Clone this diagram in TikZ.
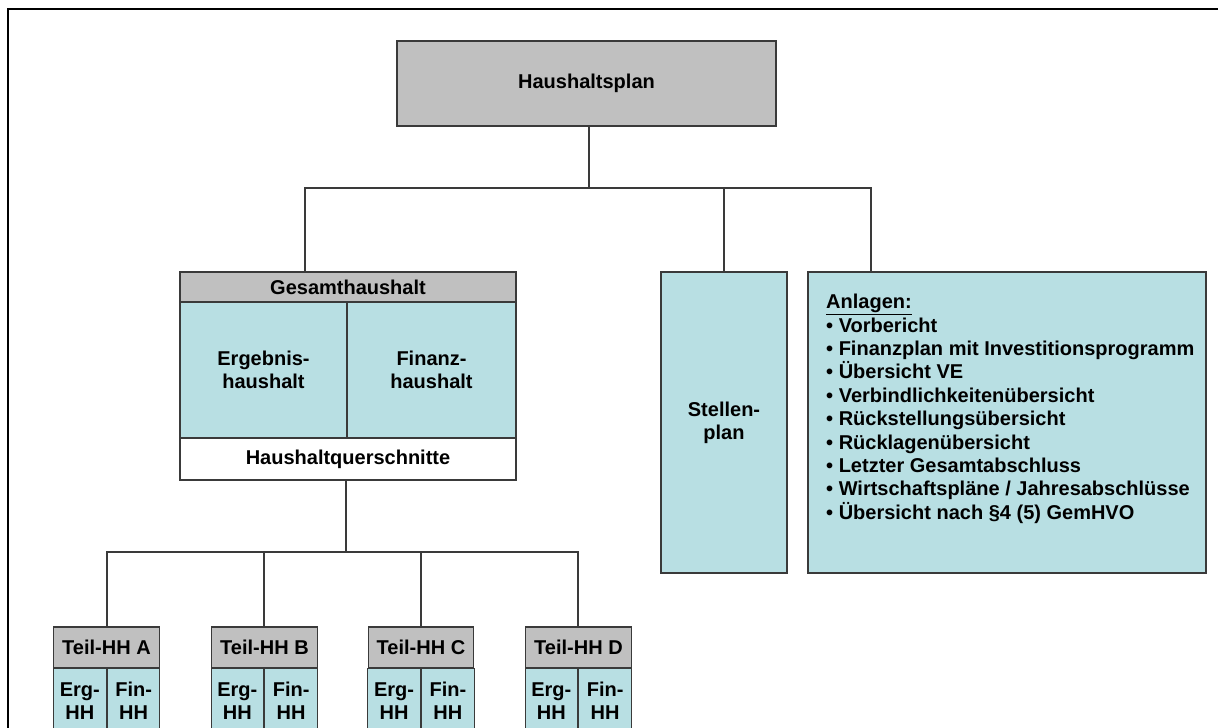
\documentclass[tikz,border=0pt]{standalone}
\usepackage{fontspec}
\setmainfont{Liberation Sans}
\definecolor{hdgray}{HTML}{C0C0C0}
\definecolor{lcyan}{HTML}{B8DFE3}
\definecolor{edge}{HTML}{3A3A3A}
\tikzset{
  box/.style={draw=edge, line width=1.1pt, inner sep=0pt, align=center,
    font=\fontsize{20}{23}\selectfont\bfseries},
  graybox/.style={box, fill=hdgray},
  cyanbox/.style={box, fill=lcyan},
  whitebox/.style={box, fill=white},
  wire/.style={draw=edge, line width=1.4pt},
}
\begin{document}
\begin{tikzpicture}[x=1pt,y=-1pt]
\useasboundingbox (0,0) rectangle (1218,728);
\clip (0,0) rectangle (1218,728);
% outer frame
\draw[line width=2.4pt, black] (8,740) -- (8,9) -- (1230,9);

% top box
\node[graybox, minimum width=379pt, minimum height=85pt] (hp) at (586.5,83.5) {Haushaltsplan};

% Gesamthaushalt block
\node[graybox, minimum width=336pt, minimum height=30pt] (gh) at (348,287) {Gesamthaushalt};
\node[cyanbox, minimum width=167pt, minimum height=136pt] (erg) at (263.5,370) {Ergebnis-\\haushalt};
\node[cyanbox, minimum width=169pt, minimum height=136pt] (fin) at (431.5,370) {Finanz-\\haushalt};
\node[whitebox, minimum width=336pt, minimum height=42pt] (quer) at (348,459) {Haushaltquerschnitte};

% Stellenplan
\node[cyanbox, minimum width=126pt, minimum height=301pt] (sp) at (724,422.5) {Stellen-\\plan};

% Anlagen
\node[cyanbox, minimum width=398pt, minimum height=301pt] (anl) at (1007,422.5) {};
\node[anchor=north west, align=left, inner sep=0pt,
      font=\fontsize{20}{23.4}\selectfont\bfseries] (anltxt) at (826,294)
  {\underline{Anlagen:}\\
   • Vorbericht\\
   • Finanzplan mit Investitionsprogramm\\
   • Übersicht VE\\
   • Verbindlichkeitenübersicht\\
   • Rückstellungsübersicht\\
   • Rücklagenübersicht\\
   • Letzter Gesamtabschluss\\
   • Wirtschaftspläne / Jahresabschlüsse\\
   • Übersicht nach §4 (5) GemHVO};

% Teil-HH boxes
\foreach \n/\cx/\dx in {A/106.5/107, B/264.5/264, C/421/421, D/578.5/578}{
  \node[graybox, minimum width=105.5pt, minimum height=41pt] (t\n) at (\cx,647.5) {Teil-HH \n};
  \node[cyanbox, minimum width={\dx-\cx+52.75}, minimum height=65pt, anchor=north east] (e\n) at (\dx,668) {Erg-\\HH};
  \node[cyanbox, minimum width={\cx+52.75-\dx}, minimum height=65pt, anchor=north west] (f\n) at (\dx,668) {Fin-\\HH};
}

% connectors top level
\coordinate (hpdrop) at (589,188);
\coordinate (bL) at (305,188);
\coordinate (bR) at (871,188);
\draw[wire] (hpdrop |- hp.south) -- (hpdrop);
\draw[wire] (bL |- gh.north) -- (bL) -- (bR) -- (bR |- anl.north);
\draw[wire] (sp.north) -- (sp.north |- bL);

% connectors bottom level
\coordinate (qdrop) at (346,552);
\draw[wire] (qdrop |- quer.south) -- (qdrop);
\draw[wire] (eA.north east |- tA.north) -- (eA.north east |- qdrop) -- (eD.north east |- qdrop) -- (eD.north east |- tD.north);
\draw[wire] (eB.north east |- tB.north) -- (eB.north east |- qdrop);
\draw[wire] (eC.north east |- tC.north) -- (eC.north east |- qdrop);
\end{tikzpicture}
\end{document}
